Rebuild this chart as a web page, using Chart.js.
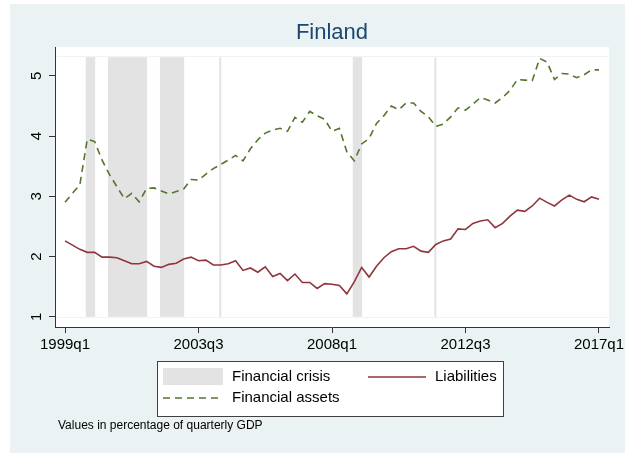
<!DOCTYPE html>
<html>
<head>
<meta charset="utf-8">
<script src="https://cdn.jsdelivr.net/npm/chart.js@4.4.0/dist/chart.umd.min.js"></script>
<title>Finland</title>
<style>
  body { margin: 0; background: #fff; }
</style>
</head>
<body>
<canvas id="myChart" width="639" height="453"></canvas>

<script>
// quarterly series, index 0 = 1999q1 ... 72 = 2017q1
var liabilities = [
  2.26, 2.19, 2.12, 2.07, 2.07, 1.99, 1.99, 1.98, 1.93, 1.88,
  1.88, 1.92, 1.84, 1.82, 1.87, 1.89, 1.96, 1.99, 1.93, 1.94,
  1.86, 1.86, 1.88, 1.93, 1.77, 1.81, 1.74, 1.83, 1.67, 1.72,
  1.60, 1.71, 1.57, 1.57, 1.47, 1.55, 1.54, 1.52, 1.38, 1.58,
  1.82, 1.66, 1.84, 1.98, 2.08, 2.13, 2.13, 2.17, 2.09, 2.07,
  2.20, 2.26, 2.29, 2.46, 2.45, 2.55, 2.59, 2.61, 2.48, 2.55,
  2.67, 2.77, 2.75, 2.84, 2.97, 2.90, 2.84, 2.94, 3.02, 2.95,
  2.91, 2.99, 2.95
];
var assets = [
  2.90, 3.05, 3.19, 3.95, 3.91, 3.60, 3.36, 3.16, 2.96, 3.05,
  2.91, 3.13, 3.14, 3.09, 3.04, 3.08, 3.12, 3.28, 3.27, 3.37,
  3.46, 3.53, 3.60, 3.68, 3.59, 3.79, 3.94, 4.05, 4.10, 4.13,
  4.08, 4.31, 4.23, 4.41, 4.34, 4.28, 4.08, 4.13, 3.74, 3.59,
  3.87, 3.96, 4.21, 4.34, 4.50, 4.44, 4.55, 4.55, 4.41, 4.32,
  4.16, 4.20, 4.32, 4.47, 4.43, 4.53, 4.64, 4.60, 4.55, 4.64,
  4.76, 4.94, 4.93, 4.92, 5.29, 5.23, 4.94, 5.04, 5.03, 4.97,
  5.02, 5.10, 5.10
];
// crisis periods (quarter index), single quarter = thin band
var crisisStart = [3, 6, 13, 21, 39, 50];
var crisisEnd   = [4, 11, 16, 21, 40, 50];
var crisisLow = 1, crisisHigh = 5.31;

var xTickPos = [0, 18, 36, 54, 72];
var xTickLabels = ['1999q1', '2003q3', '2008q1', '2012q3', '2017q1'];
var yTicks = [1, 2, 3, 4, 5];

var FONT = '"Liberation Sans", Arial, sans-serif';
var crisisColor = '#e3e3e3';

function toPoints(arr) {
  var pts = [];
  for (var i = 0; i < arr.length; i++) pts.push({ x: i, y: arr[i] });
  return pts;
}

// background, white plot region and crisis shading
var backdrop = {
  id: 'backdrop',
  beforeDraw: function(chart) {
    var ctx = chart.ctx, a = chart.chartArea;
    ctx.save();
    ctx.fillStyle = '#eaf2f3';
    ctx.fillRect(10, 4, 615, 449);
    ctx.fillStyle = '#fff';
    ctx.fillRect(a.left, a.top, a.right - a.left, a.bottom - a.top);
    ctx.restore();
  },
  beforeDatasetsDraw: function(chart) {
    var ctx = chart.ctx, a = chart.chartArea;
    var x = chart.scales.x, y = chart.scales.y;
    var top = y.getPixelForValue(crisisHigh), bot = y.getPixelForValue(crisisLow);
    ctx.save();
    ctx.strokeStyle = '#eef3f5';
    ctx.lineWidth = 1;
    ctx.beginPath();
    ctx.moveTo(a.left + 2, Math.round(top) - 0.5); ctx.lineTo(a.right, Math.round(top) - 0.5);
    ctx.moveTo(a.left + 2, Math.round(bot) + 0.5); ctx.lineTo(a.right, Math.round(bot) + 0.5);
    ctx.stroke();
    ctx.fillStyle = crisisColor;
    for (var i = 0; i < crisisStart.length; i++) {
      var x0 = x.getPixelForValue(crisisStart[i]) - 1.5;
      var x1 = x.getPixelForValue(crisisEnd[i]) + 0.5;
      ctx.fillRect(x0, top, x1 - x0, bot - top);
    }
    ctx.restore();
  }
};

// legend box and note, Stata style
var stataLegend = {
  id: 'stataLegend',
  afterDraw: function(chart) {
    var ctx = chart.ctx, ds = chart.data.datasets;
    ctx.save();
    ctx.fillStyle = '#fff';
    ctx.fillRect(157.5, 361.5, 346, 55);
    ctx.strokeStyle = '#404040';
    ctx.lineWidth = 1;
    ctx.strokeRect(157.5, 361.5, 346, 55);

    ctx.fillStyle = crisisColor;
    ctx.fillRect(163, 368, 60, 17);

    ctx.lineWidth = 1.6;
    ctx.strokeStyle = ds[0].borderColor;
    ctx.beginPath(); ctx.moveTo(368, 377); ctx.lineTo(426, 377); ctx.stroke();
    ctx.strokeStyle = ds[1].borderColor;
    ctx.setLineDash(ds[1].borderDash);
    ctx.beginPath(); ctx.moveTo(163, 398); ctx.lineTo(223, 398); ctx.stroke();
    ctx.setLineDash([]);

    ctx.fillStyle = '#000';
    ctx.font = '15px ' + FONT;
    ctx.textBaseline = 'middle';
    ctx.textAlign = 'left';
    ctx.fillText('Financial crisis', 232, 377);
    ctx.fillText(ds[0].label, 435, 377);
    ctx.fillText(ds[1].label, 232, 398);

    ctx.font = '12px ' + FONT;
    ctx.fillText('Values in percentage of quarterly GDP', 58, 426);
    ctx.restore();
  }
};

const data = {
  datasets: [{
    label: 'Liabilities',
    data: toPoints(liabilities),
    borderColor: '#90353b',
    borderWidth: 1.6,
    pointRadius: 0,
    fill: false
  }, {
    label: 'Financial assets',
    data: toPoints(assets),
    borderColor: '#55752f',
    borderWidth: 1.6,
    borderDash: [7, 5],
    pointRadius: 0,
    fill: false
  }]
};

const config = {
  type: 'line',
  data: data,
  plugins: [backdrop, stataLegend],
  options: {
    responsive: false,
    animation: false,
    devicePixelRatio: 1,
    layout: { padding: { left: 0, right: 30, top: 4, bottom: 96 } },
    plugins: {
      legend: { display: false },
      tooltip: { enabled: false },
      title: {
        display: true,
        text: 'Finland',
        fullSize: false,
        color: '#1a476f',
        font: { family: FONT, size: 22, weight: 'normal' },
        padding: { top: 16, bottom: 0.6 }
      }
    },
    scales: {
      x: {
        type: 'linear',
        min: -1.35,
        max: 73.35,
        afterFit: function(s) { s.height = 30; },
        afterBuildTicks: function(s) { s.ticks = xTickPos.map(function(v) { return { value: v }; }); },
        ticks: {
          autoSkip: false,
          maxRotation: 0,
          minRotation: 0,
          padding: 3,
          color: '#000',
          font: { family: FONT, size: 15 },
          callback: function(v, i) { return xTickLabels[i]; }
        },
        grid: { drawOnChartArea: false, tickLength: 6, color: '#333' },
        border: { color: '#333', width: 1 }
      },
      y: {
        min: 0.83,
        max: 5.48,
        afterFit: function(s) { s.width = 55; },
        afterBuildTicks: function(s) { s.ticks = yTicks.map(function(v) { return { value: v }; }); },
        ticks: {
          minRotation: 90,
          maxRotation: 90,
          crossAlign: 'center',
          padding: 8,
          color: '#000',
          font: { family: FONT, size: 15 }
        },
        grid: { drawOnChartArea: false, tickLength: 6, color: '#333' },
        border: { color: '#333', width: 1 }
      }
    }
  }
};

var myChart = new Chart(document.getElementById('myChart'), config);
</script>
</body>
</html>
